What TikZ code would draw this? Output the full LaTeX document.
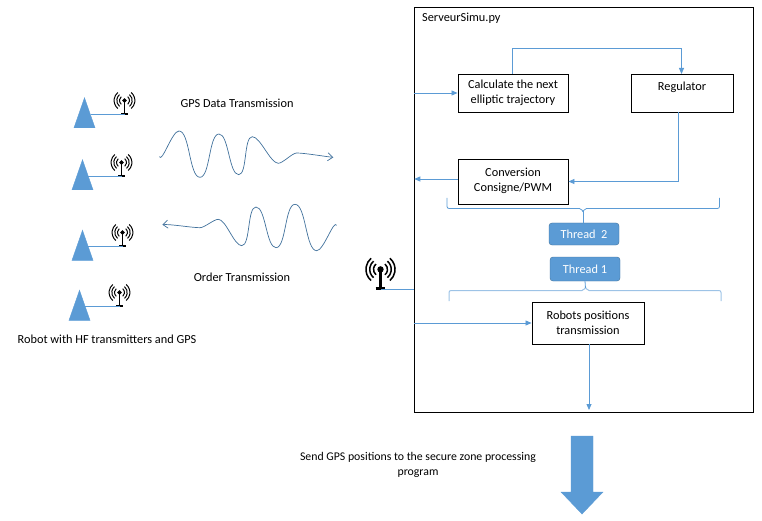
\documentclass[tikz,border=0pt]{standalone}
\usepackage{fontspec}
\setmainfont{Carlito}
\usepackage{tikz}
\usetikzlibrary{arrows.meta,shapes.geometric}
\definecolor{hfblue}{HTML}{5B9BD5}
\definecolor{hfdark}{HTML}{41719C}
\definecolor{hflight}{HTML}{9DC3E6}
\tikzset{
  antenna/.pic={
    \draw[line width=#1*1pt,fill=black] (0,-14) circle (1.7);
    \draw[line width=#1*1.5pt] (0,-14) -- (0,0);
    \draw[line width=#1*2pt] (-3.5,-.5) -- (3.5,-.5);
    \foreach \r in {5,7.7,10.4}{
      \draw[line width=#1*1pt] (0,-14) ++(-50:\r) arc (-50:50:\r);
      \draw[line width=#1*1pt] (0,-14) ++(130:\r) arc (130:230:\r);
    }
  }
}
\begin{document}
\begin{tikzpicture}[x=1pt,y=-1pt,font=\fontsize{12.3}{15}\selectfont,
                    box node/.style={rectangle,draw,line width=.9pt,align=center,inner sep=0pt},
                    thread node/.style={rectangle,rounded corners=3pt,draw=hfdark,fill=hfblue,text=white,
                      minimum width=70pt,inner sep=0pt},
                    robot node/.style={isosceles triangle,isosceles triangle stretches,shape border rotate=90,
                      fill=hfblue,draw=hfblue,minimum width=21pt,minimum height=30pt,inner sep=0pt,anchor=lower side},
                    text node/.style={align=center,inner sep=0pt},
                    blue line/.style={draw=hfblue,line width=.8pt},
                    blue arrow/.style={blue line,-{Triangle[length=6pt,width=5pt]}},
                    wave/.style={draw=hfdark,line width=.7pt,looseness=.55,-{Straight Barb[length=5pt,width=8pt]}}]
  \useasboundingbox (0,0) rectangle (762,521);

  \node[box node,minimum width=338.5pt,minimum height=404.5pt] (server) at (584,210) {};
  \node[text node,anchor=west] (title) at (422,18) {ServeurSimu.py};

  \node[box node,minimum width=110pt,minimum height=38pt] (calc) at (513,93) {\raisebox{-1pt}{Calculate the next}\\[0pt]\raisebox{-1pt}{elliptic trajectory}};
  \node[box node,minimum width=102pt,minimum height=38pt] (reg) at (682,93) {\raisebox{-1pt}{Regulator}\\[0pt]\mbox{}};
  \node[box node,minimum width=110pt,minimum height=45pt] (conv) at (513,181.5) {\raisebox{3pt}{Conversion}\\[0pt]\raisebox{3pt}{Consigne/PWM}};
  \node[box node,minimum width=112pt,minimum height=42pt] (pos) at (588,323) {\raisebox{1pt}{Robots positions}\\[0pt]\raisebox{1pt}{transmission}};
  \node[thread node,minimum height=22pt] (thr2) at (584,234) {Thread~~2};
  \node[thread node,minimum height=24pt] (thr1) at (585,269) {Thread 1};

  \node[robot node] (r1) at (84.5,128) {};
  \node[robot node] (r2) at (82.5,190) {};
  \node[robot node] (r3) at (82.5,260.5) {};
  \node[robot node] (r4) at (79.5,320.5) {};

  \coordinate (a1) at (124.5,114.5);
  \coordinate (a2) at (121.5,176.5);
  \coordinate (a3) at (122.5,246.5);
  \coordinate (a4) at (119.5,306.5);
  \coordinate (a5) at (380.5,289);
  \pic at (a1) {antenna=1};
  \pic at (a2) {antenna=1};
  \pic at (a3) {antenna=1};
  \pic at (a4) {antenna=1};
  \pic[scale=1.4] at (a5) {antenna=1.5};

  \draw[blue line] (r1.center |- a1) ++(6,0) -- (a1);
  \draw[blue line] (r2.center |- a2) ++(5,0) -- (a2);
  \draw[blue line] (r3.center |- a3) ++(5,0) -- (a3);
  \draw[blue line] (r4.center |- a4) ++(5,0) -- (a4);
  \draw[blue line] (a5) -- (server.west |- a5);

  \node[text node] (gps) at (237,103) {GPS Data Transmission};
  \node[text node] (order) at (242,277) {Order Transmission};
  \node[text node] (robots) at (107,339) {Robot with HF transmitters and GPS};
  \node[text node,font=\fontsize{11.8}{15}\selectfont] (send) at (418,465) {Send GPS positions to the secure zone processing\\[0pt]program};

  \draw[wave] (159.3,156.7) to[out=-65,in=180] (179,131) to[out=0,in=180] (200,177.3)
    to[out=0,in=180] (219,134) to[out=0,in=180] (238.7,174.7) to[out=0,in=180] (252.3,136.7)
    to[out=0,in=180] (278.3,163.3) to[out=0,in=180] (296.7,153) to[out=0,in=175] (333.3,157.3);
  \draw[wave] (336.7,225.3) to[out=115,in=0] (316.7,250.7) to[out=180,in=0] (295,204.3)
    to[out=180,in=0] (276,247.7) to[out=180,in=0] (256,207) to[out=180,in=0] (241.7,245.7)
    to[out=180,in=0] (218.3,219.3) to[out=180,in=0] (200,227.7) to[out=180,in=5] (162.3,224.7);

  \draw[blue arrow] (server.west |- calc) -- (calc);
  \draw[blue arrow] (512,74) |- (681.5,48) -- (681.5,74);
  \draw[blue arrow] (678,112) |- (conv.east |- 0,181.5);
  \draw[blue arrow] (conv.west |- 0,179) -- (server.west |- 0,179);
  \draw[blue arrow] (server.west |- pos) -- (pos);
  \draw[blue arrow] (589,344) -- (589,410);

  \draw[blue line,rounded corners=2pt] (447,198) -- (447,208.5) -- (581.5,208.5) -- (583,212);
  \draw[blue line,rounded corners=2pt] (719.5,198) -- (719.5,208.5) -- (584.5,208.5) -- (583,212);
  \draw[blue line] (583,211) -- (thr2.north -| 583,0);
  \draw[draw=hflight,line width=1pt,rounded corners=2pt] (449,301) -- (449,290.5) -- (584,290.5) -- (585.5,287);
  \draw[draw=hflight,line width=1pt,rounded corners=2pt] (721,301) -- (721,290.5) -- (587,290.5) -- (585.5,287);
  \draw[blue line] (585.5,288) -- (thr1.south);

  \draw[fill=hfblue,draw=hfblue] (571,436) -- (593,436) -- (593,492) -- (603,492) -- (582,514)
    -- (561,492) -- (571,492) -- cycle;
\end{tikzpicture}
\end{document}
